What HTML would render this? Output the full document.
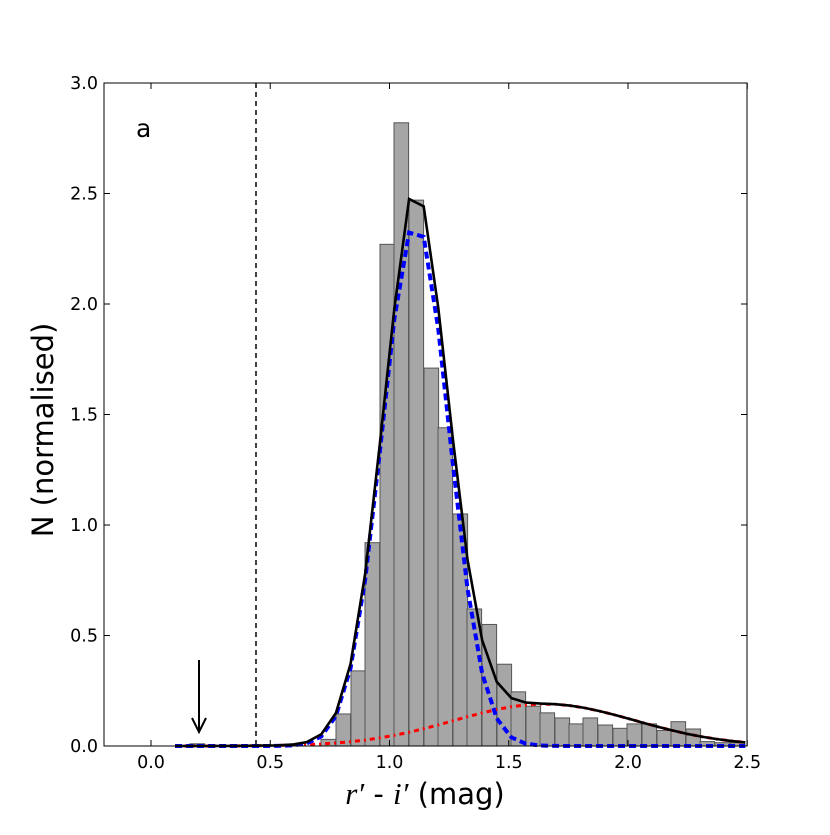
<!DOCTYPE html>
<html><head><meta charset="utf-8"><style>
body{margin:0;background:#fff;}
svg text{font-family:"DejaVu Sans","Liberation Sans",sans-serif;}
</style></head><body>
<svg id="s" width="830" height="830" xmlns="http://www.w3.org/2000/svg">
<rect width="830" height="830" fill="#fff"/>
<g id="bars" fill="#a6a6a6" stroke="#555" stroke-width="1"></g>
<line x1="256" y1="83" x2="256" y2="746" stroke="#000" stroke-width="1.5" stroke-dasharray="5,4"/>
<path id="red" fill="none" stroke="#ff0000" stroke-width="3" stroke-dasharray="5,4,2,4"/>
<path id="blue" fill="none" stroke="#0000ff" stroke-width="4" stroke-dasharray="7,4"/>
<path id="black" fill="none" stroke="#000" stroke-width="2.6"/>
<line x1="199" y1="660" x2="199" y2="732" stroke="#000" stroke-width="2"/>
<path d="M192,718 L199,732 L206,718" fill="none" stroke="#000" stroke-width="2"/>
<rect x="104" y="83" width="643" height="663" fill="none" stroke="#000" stroke-width="1"/>
<g id="ticks" stroke="#000" stroke-width="1"></g>
<g id="lbl" font-size="17.5" fill="#000"></g>
<text x="136" y="137" font-size="25">a</text>
<text transform="translate(53,430) rotate(-90)" font-size="29" text-anchor="middle">N (normalised)</text>
<text x="425" y="804" font-size="29" text-anchor="middle"><tspan font-family="Liberation Serif" font-style="italic" font-size="31">r′</tspan> - <tspan font-family="Liberation Serif" font-style="italic" font-size="31">i′</tspan> (mag)</text>
</svg>
<script>
var X=function(v){return 151+v*238.5},Y=function(v){return 746-v*221};
var NS="http://www.w3.org/2000/svg";
function el(p,t,a){var e=document.createElementNS(NS,t);for(var k in a)e.setAttribute(k,a[k]);p.appendChild(e);return e;}
var bars=document.getElementById('bars');
var h=[[190,0.01],[321,0.03],[336,0.145],[351,0.34],[365,0.92],[380,2.27],[394,2.82],[409,2.47],[424,1.71],[438,1.44],[453,1.05],[467,0.62],[482,0.55],[497,0.37],[511,0.245],[526,0.18],[540,0.15],[555,0.127],[569,0.10],[583,0.127],[598,0.095],[613,0.08],[627,0.10],[642,0.10],[657,0.07],[671,0.11],[686,0.077],[700,0.02],[715,0.015],[730,0.015]];
h.forEach(function(b){el(bars,'rect',{x:b[0],y:Y(b[1]),width:14.6,height:746-Y(b[1])});});
function g(x,a,m,s){return a*Math.exp(-0.5*(x-m)*(x-m)/(s*s));}
var r="",bl="",bk="";
var st=0.0613, x0=1.082-st*16;
for(var i=0;i<40;i++){
 var x=x0+i*st; if(x>2.52)break;
 var vb=g(x,2.37,1.11,0.14), vr=g(x,0.19,1.65,0.38);
 var extra=(i==16)?0.09:(i==17?0.06:0);
 var c=(r?"L":"M");
 r+=c+X(x).toFixed(1)+","+Y(vr).toFixed(1);
 bl+=c+X(x).toFixed(1)+","+Y(vb).toFixed(1);
 bk+=c+X(x).toFixed(1)+","+Y(vb+vr+extra).toFixed(1);
}
document.getElementById('red').setAttribute('d',r);
document.getElementById('blue').setAttribute('d',bl);
document.getElementById('black').setAttribute('d',bk);
var t=document.getElementById('ticks'),l=document.getElementById('lbl');
[0,0.5,1,1.5,2,2.5].forEach(function(v){var x=X(v);
 el(t,'line',{x1:x,y1:746,x2:x,y2:740});el(t,'line',{x1:x,y1:83,x2:x,y2:89});
 var e=el(l,'text',{x:x,y:768,'text-anchor':'middle'});e.textContent=v.toFixed(1);});
[0,0.5,1,1.5,2,2.5,3].forEach(function(v){var y=Y(v);
 el(t,'line',{x1:104,y1:y,x2:110,y2:y});el(t,'line',{x1:747,y1:y,x2:741,y2:y});
 var e=el(l,'text',{x:98,y:y+6,'text-anchor':'end'});e.textContent=v.toFixed(1);});
</script>
</body></html>
